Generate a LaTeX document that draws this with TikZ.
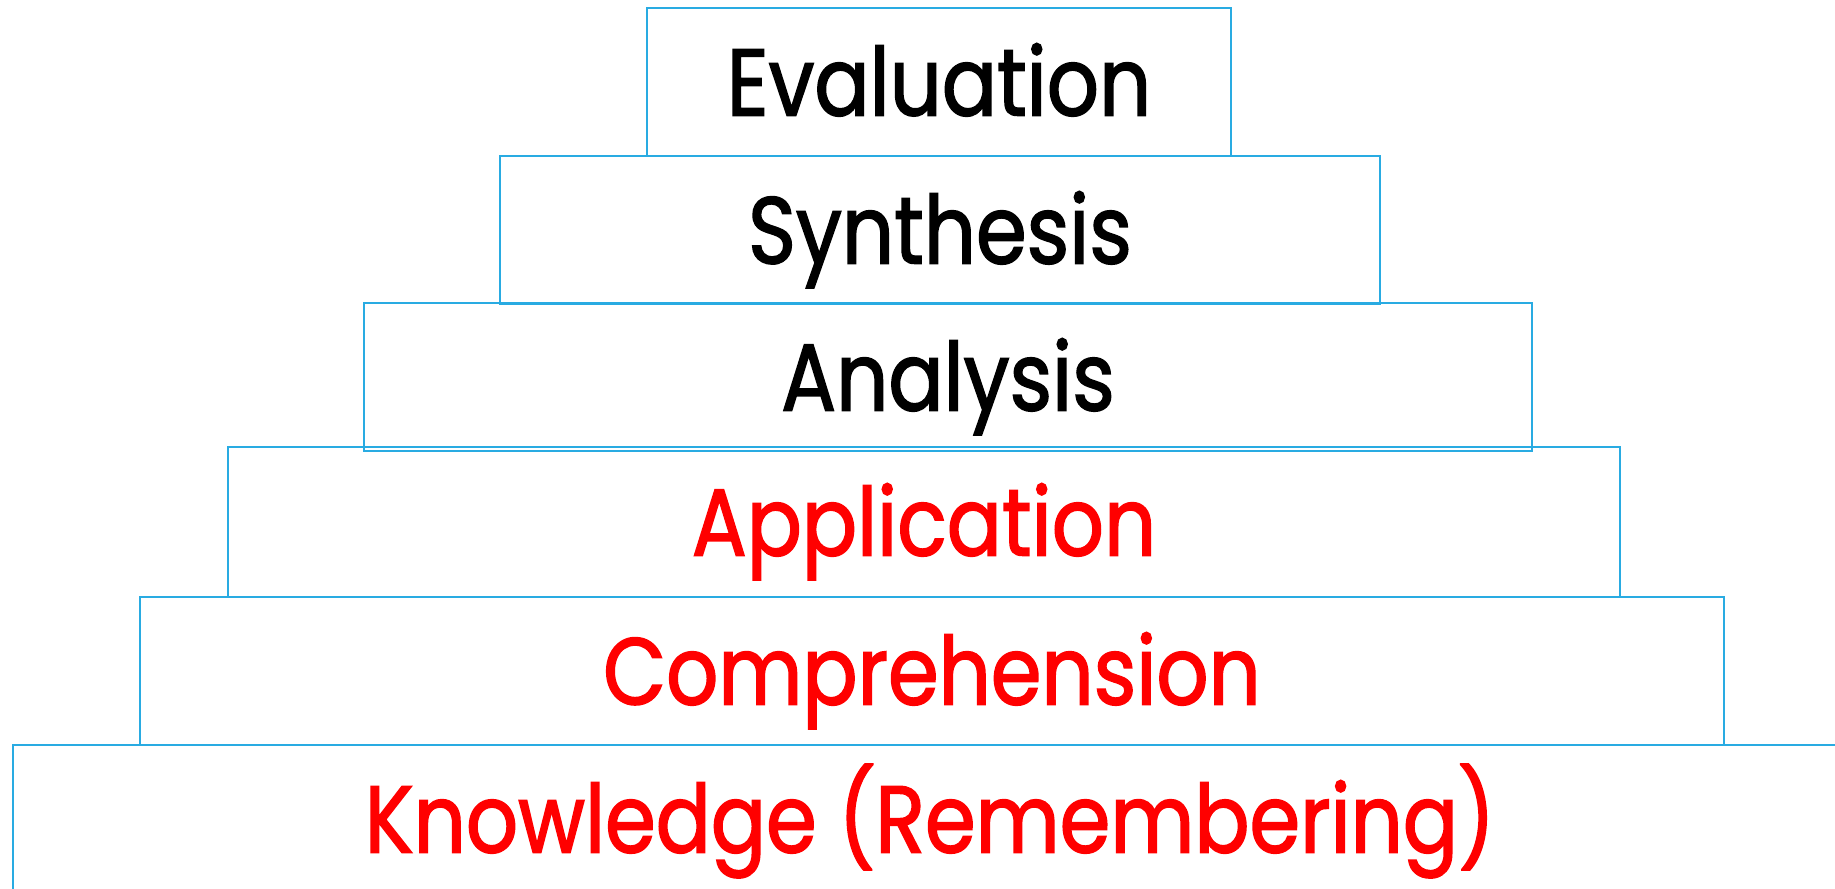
\documentclass[tikz,border=0pt]{standalone}
\usepackage{fontspec}
\setmainfont{Poppins}[FakeStretch=0.86, FakeBold=1.6]
\usepackage{tikz}
\usetikzlibrary{positioning}
\definecolor{stepblue}{RGB}{41,171,226}

\begin{document}
\begin{tikzpicture}[
		tier/.style={draw=stepblue, line width=0.6pt, rectangle, inner sep=0pt,
			minimum height=1.48cm, text height=0.67cm, text depth=0pt,
			font=\fontsize{27}{30}\selectfont},
		low/.style={tier, text=red},
		high/.style={tier, text=black}]
		\useasboundingbox (0,0) rectangle (18.35,-8.89);
		
		% levels of the pyramid, top to bottom
		\node[high, minimum width=5.84cm] (eval) at (9.39,-0.82) {Evaluation};
		\node[high, minimum width=8.80cm] (synth) at (9.40,-2.30) {Synthesis};
		\node[high, minimum width=11.68cm] (anal) at (9.48,-3.77) {Analysis};
		\node[low, minimum width=13.92cm, minimum height=1.50cm] (appl) at (9.24,-5.22) {Application};
		\node[low, minimum width=15.84cm] (comp) at (9.32,-6.71) {Comprehension};
		\node[low, minimum width=18.34cm] (know) at (9.30,-8.19) {Knowledge (Remembering)};
	\end{tikzpicture}
\end{document}
